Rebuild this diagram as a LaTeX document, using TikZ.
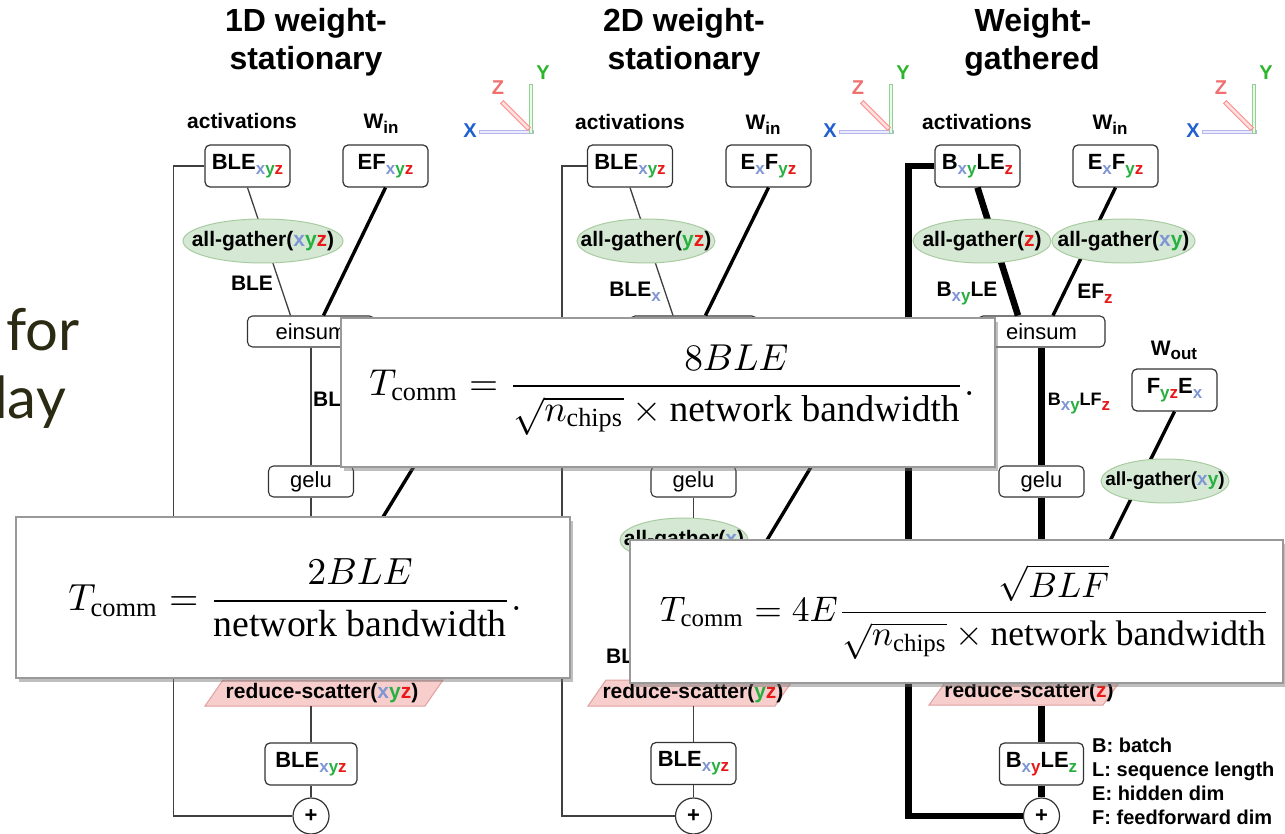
\documentclass[tikz,border=0pt]{standalone}
\usepackage{amsmath}
\usepackage{graphicx}
\usepackage{fontspec}
\setmainfont{Liberation Sans}
\newfontfamily\tms{Liberation Serif}
\newfontfamily\slidefont{Lato}
\usetikzlibrary{shapes.geometric,shadows}

\definecolor{xcol}{HTML}{7F96D4}
\definecolor{ycol}{HTML}{27B040}
\definecolor{zcol}{HTML}{E81818}
\definecolor{axX}{HTML}{1F5FD0}
\definecolor{axY}{HTML}{2AB52A}
\definecolor{axZ}{HTML}{F07070}
\definecolor{agfill}{HTML}{D5E8D4}
\definecolor{agdraw}{HTML}{A8CCA0}
\definecolor{rsfill}{HTML}{F8CECC}
\definecolor{rsdraw}{HTML}{E0A0A0}
\definecolor{slide}{HTML}{2B2A12}

% coloured mesh-axis letters
\newcommand{\lxyz}{{\color{xcol}x}{\color{ycol}y}{\color{zcol}z}}
\newcommand{\lxy}{{\color{xcol}x}{\color{ycol}y}}
\newcommand{\lyz}{{\color{ycol}y}{\color{zcol}z}}
\newcommand{\lx}{{\color{xcol}x}}
\newcommand{\lz}{{\color{zcol}z}}
% lowered subscript in text
\newcommand{\sbs}[1]{\raisebox{-5pt}{\fontsize{17}{17}\selectfont#1}}

\tikzset{
  tensor/.style={draw=black!80, fill=white, rounded corners=5pt, line width=1.2pt,
    minimum width=85pt, minimum height=42pt, inner sep=0pt,
    font=\fontsize{22}{26}\selectfont\bfseries},
  op/.style={draw=black!80, fill=white, rounded corners=5pt, line width=1.1pt,
    minimum height=31pt, inner sep=0pt, font=\fontsize{22}{26}\selectfont},
  gather/.style={ellipse, draw=agdraw, fill=agfill, line width=1pt,
    minimum height=44pt, inner sep=0pt, font=\fontsize{21}{24}\selectfont\bfseries},
  scatterfill/.style={fill=rsfill, draw=rsdraw, line width=1pt},
  rstext/.style={minimum height=26pt, inner sep=0pt, font=\fontsize{21}{24}\selectfont\bfseries},
  hdr/.style={font=\fontsize{32}{38}\selectfont\bfseries, inner sep=0pt, anchor=base},
  lbl/.style={font=\fontsize{21}{24}\selectfont\bfseries, inner sep=0pt},
  flow/.style={draw=black!75, line width=1.3pt},
  wflow/.style={draw=black, line width=3.4pt},
  fatflow/.style={draw=black, line width=6.5pt},
  plus/.style={circle, draw=black!80, fill=white, line width=1.2pt, minimum size=36pt,
    inner sep=0pt, font=\fontsize{22}{24}\selectfont\bfseries},
  eqbox/.style={draw=black!40, fill=white, line width=1.2pt, inner sep=0pt,
    drop shadow={shadow xshift=3pt, shadow yshift=-4pt, opacity=0.45, fill=black!55}},
  eqtext/.style={inner sep=0pt},
  axlbl/.style={font=\fontsize{20}{22}\selectfont\bfseries, inner sep=0pt},
  legend/.style={font=\fontsize{20}{22}\selectfont\bfseries, inner sep=0pt, anchor=base west},
  slidetxt/.style={font=\slidefont\fontsize{58}{64}\selectfont, text=slide, anchor=base west, inner sep=0pt},
}

\begin{document}
\begin{tikzpicture}[x=1pt, y=-1pt]
\fill[white] (0,0) rectangle (1285,834);
\useasboundingbox (0,0) rectangle (1285,834);

% slide title fragments
\node[slidetxt] (sl1) at (6,350) {for};
\node[slidetxt] (sl2) at (-6,418) {lay};

% column headings
\node[hdr] (t1a) at (306,32) {1D weight-};
\node[hdr] (t1b) at (306,70) {stationary};
\node[hdr] (t2a) at (684,32) {2D weight-};
\node[hdr] (t2b) at (684,70) {stationary};
\node[hdr] (t3a) at (1033,32) {Weight-};
\node[hdr] (t3b) at (1032,70) {gathered};

% mesh axes
\foreach \i/\dx in {1/0,2/360,3/723}{
  \begin{scope}[xshift=\dx pt]
    \filldraw[fill=blue!8!white, draw=blue!25!white!85!gray, line width=0.9pt]
      (479,130.5) rectangle (533,133.5);
    \filldraw[fill=green!10!white, draw=green!35!gray!60, line width=0.9pt]
      (529.5,84) rectangle (532.5,133.5);
    \filldraw[fill=red!12!white, draw=red!45!white, line width=0.9pt]
      (503.4,100.6) -- (530.4,127.6) -- (527.6,130.4) -- (500.6,103.4) -- cycle;
    \node[axlbl, text=axX] (axx\i) at (470,131) {X};
    \node[axlbl, text=axY] (axy\i) at (543,73) {Y};
    \node[axlbl, text=axZ] (axz\i) at (498,88) {Z};
  \end{scope}
}

% ---------------- 1D weight-stationary ----------------
\node[lbl, anchor=base] (act1) at (242,129) {activations};
\node[lbl, anchor=base] (win1) at (381,129) {W\sbs{in}};
\node[tensor] (a1) at (247.5,166) {BLE\sbs{\lxyz}};
\node[tensor] (w1) at (385.5,166) {EF\sbs{\lxyz}};
\node[op, minimum width=127pt] (e1) at (311,331.5) {einsum};
\node[op, minimum width=85pt] (g1) at (311,481.5) {gelu};
\node[tensor, minimum width=92pt] (o1) at (311,764) {BLE\sbs{\lxyz}};
\node[plus] (p1) at (311,816) {+};
\coordinate (c1a) at (311,540);
\coordinate (c1b) at (424,450);
\coordinate (c1c) at (372,535);

\draw[flow] (a1.south) -- ([xshift=-20.5pt]e1.north);
\draw[wflow] (w1.south) -- ([xshift=12.5pt]e1.north);
\draw[flow] (e1.south) -- (g1.north);
\draw[flow] (g1.south) -- (c1a);
\draw[wflow] (c1b) -- (c1c);
\draw[flow] (a1.west) -- ++(-31,0) |- (p1.west);

\node[gather, minimum width=160pt] (ag1) at (263,241) {\makebox[0pt]{all-gather(\lxyz)}};
\node[lbl] (l1a) at (252,283) {BLE};
\node[lbl, anchor=base west] (l1b) at (313,406) {BL};
\filldraw[scatterfill] (205,706) -- (425,706) -- (443,680) -- (223,680) -- cycle;
\node[rstext, minimum width=200pt] (r1) at (322,693) {reduce-scatter(\lxyz)};
\draw[flow] (o1.north |- r1.south) -- (o1.north);
\draw[flow] (o1.south) -- (p1.north);

% ---------------- 2D weight-stationary ----------------
\node[lbl, anchor=base] (act2) at (630,130) {activations};
\node[lbl, anchor=base] (win2) at (763,130) {W\sbs{in}};
\node[tensor] (a2) at (630,166) {BLE\sbs{\lxyz}};
\node[tensor] (w2) at (768.5,166) {E\sbs{\lx}F\sbs{\lyz}};
\node[op, minimum width=127pt] (e2) at (693.5,331.5) {};
\node[op, minimum width=85pt] (g2) at (693.5,481.5) {gelu};
\node[tensor] (o2) at (693.5,763.5) {BLE\sbs{\lxyz}};
\node[plus] (p2) at (693.5,816) {+};
\coordinate (c2b) at (820,452);
\coordinate (c2c) at (758,555);

\draw[flow] (a2.south) -- ([xshift=-20.5pt]e2.north);
\draw[wflow] (w2.south) -- ([xshift=12pt]e2.north);
\draw[flow] (e2.south) -- (g2.north);
\draw[wflow] (c2b) -- (c2c);
\draw[flow] (a2.west) -- ++(-25,0) |- (p2.west);

\node[gather, minimum width=138pt] (ag2) at (646,241) {\makebox[0pt]{all-gather(\lyz)}};
\node[gather, minimum width=128pt] (ag2b) at (684,540) {\makebox[0pt]{all-gather(\lx)}};
\draw[flow] (g2.south) -- (g2.south |- ag2b.north);
\node[lbl] (l2a) at (635,292) {BLE\sbs{\lx}};
\node[lbl, anchor=base west] (l2b) at (606,663) {BL};
\filldraw[scatterfill] (588,706) -- (775,706) -- (793,680) -- (606,680) -- cycle;
\node[rstext, minimum width=180pt] (r2) at (693,693) {reduce-scatter(\lyz)};
\draw[flow] (o2.north |- r2.south) -- (o2.north);
\draw[flow] (o2.south) -- (p2.north);

% ---------------- Weight-gathered ----------------
\node[lbl, anchor=base] (act3) at (977,130) {activations};
\node[lbl, anchor=base] (win3) at (1110,130) {W\sbs{in}};
\node[tensor] (a3) at (977.5,166) {B\sbs{\lxy}LE\sbs{\lz}};
\node[tensor] (w3) at (1115.5,166) {E\sbs{\lx}F\sbs{\lyz}};
\node[op, minimum width=127pt] (e3) at (1041.5,331.5) {einsum};
\node[op, minimum width=85pt] (g3) at (1041.5,481.5) {gelu};
\node[lbl, anchor=base] (wo3) at (1174,355) {W\sbs{out}};
\node[tensor] (f3) at (1174.5,390) {F\sbs{\lyz}E\sbs{\lx}};
\node[tensor, minimum width=84pt] (o3) at (1041.5,764) {B\sbs{{\color{xcol}x}{\color{zcol}y}}LE\sbs{{\color{ycol}z}}};
\node[plus] (p3) at (1041.5,816) {+};
\filldraw[scatterfill] (929,705) -- (1103,705) -- (1121,680) -- (947,680) -- cycle;
\node[rstext, minimum width=168pt] (r3) at (1029,692.5) {reduce-scatter(\lz)};
\coordinate (c3w) at (1098,565);

\draw[fatflow] (a3.south) -- ([xshift=-23.5pt]e3.north);
\draw[wflow] (w3.south) -- ([xshift=11.5pt]e3.north);
\draw[fatflow] (e3.south) -- (g3.north);
\draw[fatflow] (g3.south) -- (g3.south |- r3.north);
\draw[wflow] (f3.south) -- (c3w);
\draw[fatflow] (o3.north |- r3.south) -- (o3.north);
\draw[fatflow] (o3.south) -- (p3.north);
\draw[fatflow] (a3.west) -- ++(-26,0) |- (p3.west);

\node[gather, minimum width=138pt] (ag3a) at (982,241) {\makebox[0pt]{all-gather(\lz)}};
\node[gather, minimum width=143pt] (ag3b) at (1123.5,241) {\makebox[0pt]{all-gather(\lxy)}};
\node[gather, minimum width=128pt, font=\fontsize{19}{22}\selectfont\bfseries] (ag3c) at (1165,481) {\makebox[0pt]{all-gather(\lxy)}};
\node[lbl] (l3a) at (967,294) {B\sbs{\lxy}LE};
\node[lbl] (l3b) at (1095,294) {EF\sbs{\lz}};
\node[lbl, font=\fontsize{18}{22}\selectfont\bfseries] (l3c) at (1079,404) {B\sbs{\lxy}LF\sbs{\lz}};

% dimension legend
\node[legend] (lg1) at (1092,752) {B: batch};
\node[legend] (lg2) at (1092,776) {L: sequence length};
\node[legend] (lg3) at (1092,800) {E: hidden dim};
\node[legend] (lg4) at (1092,824) {F: feedforward dim};

% communication-time formulas
\node[eqbox, minimum width=654pt, minimum height=149pt] (q1) at (668,392.5) {};
\node[eqtext] (q1t) at (672,390) {\resizebox{605pt}{!}{$\displaystyle
  T_{\text{\tms comm}} = \frac{8BLE}{\sqrt{n_{\text{\tms chips}}}\times\text{\tms network bandwidth}}.$}};

\node[eqbox, minimum width=554pt, minimum height=161pt] (q2) at (293,597.5) {};
\node[eqtext] (q2t) at (295,598) {\resizebox{453pt}{!}{$\displaystyle
  T_{\text{\tms comm}} = \frac{2BLE}{\text{\tms network bandwidth}}.$}};

\node[eqbox, minimum width=653pt, minimum height=143pt] (q3) at (956.5,611.5) {};
\node[eqtext] (q3t) at (965,612) {\resizebox{610pt}{!}{$\displaystyle
  T_{\text{\tms comm}} = 4E\frac{\sqrt{BLF}}{\sqrt{n_{\text{\tms chips}}}\times\text{\tms network bandwidth}}$}};
\end{tikzpicture}
\end{document}
